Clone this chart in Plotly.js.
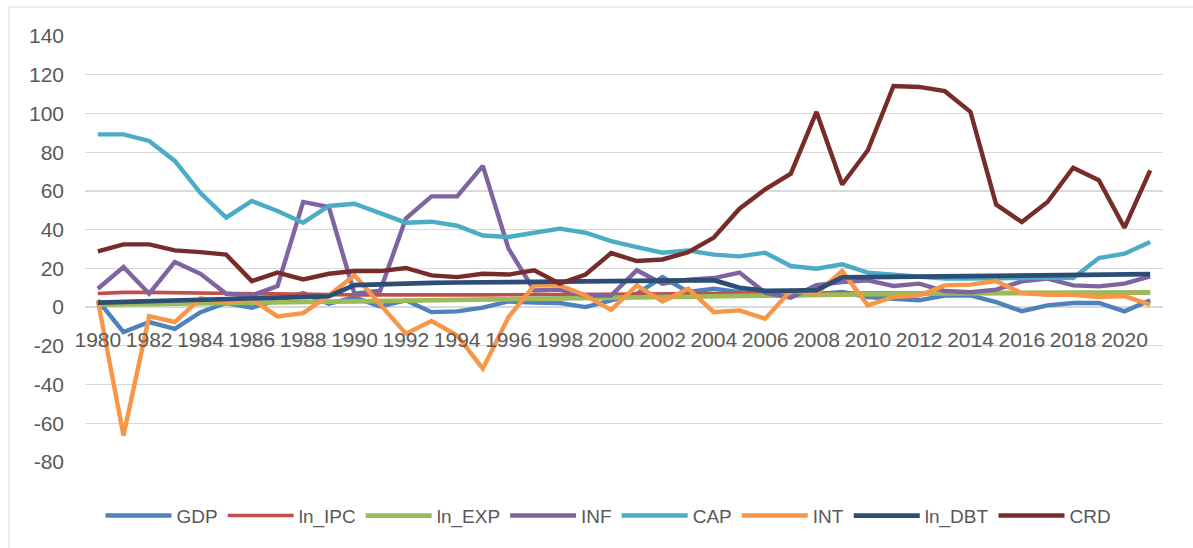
<!DOCTYPE html>
<html>
<head>
<meta charset="utf-8">
<script src="https://cdn.plot.ly/plotly-3.0.1.min.js"></script>
<style>html,body{margin:0;padding:0;background:#fff;}#chart{width:1193px;height:548px;}</style>
</head>
<body>
<div id="chart"></div>
<script>
const years = [1980,1981,1982,1983,1984,1985,1986,1987,1988,1989,1990,1991,1992,1993,1994,1995,1996,1997,1998,1999,2000,2001,2002,2003,2004,2005,2006,2007,2008,2009,2010,2011,2012,2013,2014,2015,2016,2017,2018,2019,2020,2021];
const tickYears = [1980,1982,1984,1986,1988,1990,1992,1994,1996,1998,2000,2002,2004,2006,2008,2010,2012,2014,2016,2018,2020];
const yTicks = [-80,-60,-40,-20,0,20,40,60,80,100,120,140];
const yTickText = ['-80','-60','-40','-20','0','20','40','60','80','100','120','140'];

const GDP = [3.5,-12.9,-7.7,-11.2,-2.6,2.1,-0.3,3.5,7.2,1.7,5.0,0.3,3.5,-2.6,-2.2,-0.3,2.9,2.3,2.1,0.0,3.5,6.9,15.5,7.8,9.5,7.8,6.0,6.0,6.6,7.8,5.2,4.3,3.5,6.0,6.0,2.6,-2.1,0.9,2.1,2.1,-2.2,3.5];
const ln_IPC = [7.0,7.6,7.6,7.4,7.2,7.0,6.8,6.6,6.5,6.4,6.3,6.3,6.2,6.2,6.2,6.3,6.4,6.5,6.5,6.5,6.6,6.7,6.8,6.9,7.0,7.0,7.1,7.2,7.3,7.2,7.3,7.3,7.3,7.3,7.3,7.3,7.3,7.4,7.4,7.4,7.4,7.4];
const ln_EXP = [1.3,1.4,1.6,1.8,1.9,2.1,2.2,2.4,2.6,2.8,3.0,3.2,3.4,3.6,3.8,4.1,4.3,4.5,4.6,4.8,5.0,5.2,5.4,5.6,5.8,6.0,6.1,6.3,6.5,6.6,6.8,6.9,7.0,7.1,7.2,7.3,7.3,7.4,7.4,7.5,7.5,7.6];
const INF = [9.5,20.7,6.9,23.3,17.2,6.9,6.0,10.9,54.3,51.7,6.9,8.5,45.7,57.2,57.2,72.9,30.2,8.6,9.0,6.0,6.0,19.0,12.1,14.2,15.0,17.8,7.4,4.9,11.4,12.9,13.8,10.9,12.1,8.3,7.7,9.0,13.3,14.7,11.2,10.7,12.1,15.9];
const CAP = [89.2,89.2,85.8,75.5,58.9,46.2,54.8,49.6,43.6,52.2,53.4,48.3,43.6,44.1,42.0,37.0,36.2,38.4,40.5,38.4,34.1,31.0,28.1,29.3,27.1,26.2,28.1,21.2,19.8,22.1,17.8,16.7,15.5,14.7,14.7,15.0,15.2,15.2,15.0,25.3,27.6,33.6];
const INT = [3.5,-66.3,-4.7,-7.7,4.5,2.5,4.0,-4.8,-3.1,6.0,16.4,1.7,-13.7,-7.2,-14.6,-31.8,-5.2,11.2,11.2,6.0,-1.4,11.2,2.9,9.5,-2.6,-1.7,-6.0,8.6,7.1,18.6,0.9,5.2,6.0,11.2,11.6,13.4,7.2,6.4,6.4,5.2,5.7,1.2];
const ln_DBT = [2.3,2.6,3.0,3.3,3.7,4.0,4.4,4.9,5.3,5.6,11.3,11.9,12.2,12.5,12.7,12.9,13.0,13.1,13.2,13.3,13.4,13.5,13.6,13.8,13.9,10.0,8.4,8.5,8.8,15.3,15.4,15.5,15.7,15.9,16.0,16.2,16.4,16.6,16.7,16.8,16.9,17.0];
const CRD = [28.8,32.4,32.4,29.3,28.4,27.1,13.4,17.8,14.3,17.2,18.6,18.6,20.2,16.4,15.5,17.2,16.8,19.0,12.1,16.8,27.9,23.8,24.6,28.4,35.9,50.8,60.8,68.9,100.8,63.3,81.0,114.2,113.7,111.5,100.8,52.9,43.9,54.3,72.0,65.5,41.0,70.6];

const names = ['GDP','ln_IPC','ln_EXP','INF','CAP','INT','ln_DBT','CRD'];
const series = [GDP, ln_IPC, ln_EXP, INF, CAP, INT, ln_DBT, CRD];
const colors = ['#4F81BD','#C0504D','#9BBB59','#8064A2','#4BACC6','#F79646','#2C4D75','#772C2A'];
const widths = [4.4,3.6,4.8,4.4,4.4,4.4,4.7,4.4];

const traces = series.map((s, i) => ({
  x: years, y: s, name: names[i], type: 'scatter', mode: 'lines',
  line: {color: colors[i], width: widths[i]}
}));

const font = {family: '"Liberation Sans", Arial, sans-serif', color: '#595959'};

const layout = {
  width: 1193, height: 548,
  margin: {l: 85, r: 30, t: 36, b: 86},
  paper_bgcolor: '#fff', plot_bgcolor: '#fff',
  font: font,
  showlegend: true,
  legend: {
    orientation: 'h', x: 0.4856, xanchor: 'center', y: -0.126, yanchor: 'middle',
    font: {family: font.family, size: 19, color: '#595959'},
    itemwidth: 66, traceorder: 'normal'
  },
  xaxis: {
    type: 'linear', range: [1979.5, 2021.5],
    tickmode: 'array', tickvals: tickYears, ticktext: tickYears.map(String),
    showgrid: false, zeroline: false,
    showline: false, anchor: 'free', position: 80/220,
    ticks: '', ticklabelstandoff: 18,
    tickfont: {family: font.family, size: 21, color: '#595959'}
  },
  yaxis: {
    range: [-80, 140], tickmode: 'array', tickvals: yTicks, ticktext: yTickText,
    showgrid: true, gridcolor: '#D9D9D9', gridwidth: 1.3,
    zeroline: true, zerolinecolor: '#D9D9D9', zerolinewidth: 1.3,
    showline: false, ticks: '', ticklabelstandoff: 20,
    tickfont: {family: font.family, size: 21, color: '#595959'}
  },
  shapes: [{
    type: 'rect', xref: 'paper', yref: 'paper',
    x0: (9 - 85) / 1078, x1: 1.3, y0: -0.6, y1: (462 - 7) / 426,
    line: {color: '#D9D9D9', width: 1}, fillcolor: 'rgba(0,0,0,0)', layer: 'below'
  }]
};

Plotly.newPlot('chart', traces, layout, {displayModeBar: false, staticPlot: true});
</script>
</body>
</html>
